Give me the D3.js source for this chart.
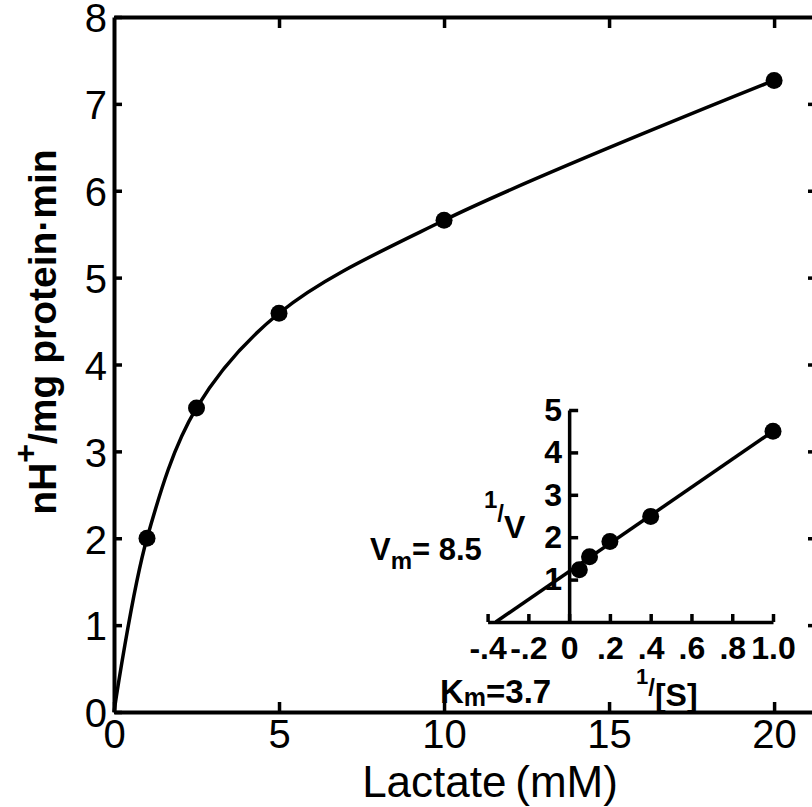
<!DOCTYPE html>
<html>
<head>
<meta charset="utf-8">
<script src="https://cdn.jsdelivr.net/npm/d3@7"></script>
<style>
  body { margin: 0; background: #fff; }
  svg { display: block; }
  text { font-family: "Liberation Sans", Arial, sans-serif; fill: #000; }
</style>
</head>
<body>
<div class="chart"></div>
<script>
// main plot: proton efflux vs lactate
var lactate = [0, 1, 2.5, 5, 10, 20];
var rate = [0, 2.0, 3.5, 4.59, 5.66, 7.27];
var xTicks = [0, 5, 10, 15, 20];
var yTicks = [0, 1, 2, 3, 4, 5, 6, 7, 8];

// inset: double reciprocal plot
var invS = [1.0, 0.4, 0.2, 0.1, 0.05];
var invV = [4.5, 2.49, 1.9, 1.54, 1.23];
var fitX = [-0.36, 1.0];
var fitY = [0, 4.5];
var insetXTicks = [-0.4, -0.2, 0, 0.2, 0.4, 0.6, 0.8, 1.0];
var insetXLabels = ["-.4", "-.2", "0", ".2", ".4", ".6", ".8", "1.0"];
var insetYTicks = [1, 2, 3, 4, 5];

var svgWidth = 812;
var svgHeight = 807;

var svg = d3.select(".chart")
  .append("svg")
  .attr("width", svgWidth)
  .attr("height", svgHeight);

var xScale = d3.scaleLinear().domain([0, 21.3]).range([114, 817]);
var yScale = d3.scaleLinear().domain([0, 8]).range([712, 17]);

// axes
var bottomAxis = d3.axisBottom(xScale)
  .tickValues(xTicks)
  .tickSizeInner(-10).tickSizeOuter(0).tickPadding(8)
  .tickFormat(d3.format("d"));
var leftAxis = d3.axisLeft(yScale)
  .tickValues(yTicks)
  .tickSizeInner(-8).tickSizeOuter(0).tickPadding(7)
  .tickFormat(d3.format("d"));
var topAxis = d3.axisTop(xScale)
  .tickValues(xTicks.slice(1))
  .tickSizeInner(-11).tickSizeOuter(0).tickFormat("");
var rightAxis = d3.axisRight(yScale)
  .tickValues(yTicks.slice(1, 8))
  .tickSizeInner(-9).tickSizeOuter(0).tickFormat("");

function styleAxis(g, fs) {
  g.select(".domain").attr("stroke", "#000").attr("stroke-width", 4);
  g.selectAll(".tick line").attr("stroke", "#000").attr("stroke-width", 3.5);
  g.selectAll(".tick text")
    .style("font-size", fs + "px")
    .style("font-family", "'Liberation Sans', Arial, sans-serif")
    .attr("fill", "#000");
}

svg.append("g").attr("transform", `translate(0, ${yScale(0)})`).call(bottomAxis).call(styleAxis, 40);
svg.append("g").attr("transform", `translate(${xScale(0)}, 0)`).call(leftAxis).call(styleAxis, 40)
  .selectAll(".tick text").attr("dy", "0.37em");
svg.append("g").attr("transform", `translate(0, ${yScale(8)})`).call(topAxis).call(styleAxis, 40);
svg.append("g").attr("transform", `translate(${xScale(21.3)}, 0)`).call(rightAxis).call(styleAxis, 40);

// axis titles
svg.append("text")
  .attr("x", 490)
  .attr("y", 797)
  .attr("text-anchor", "middle")
  .style("font-size", "44px")
  .text("Lactate\u2009(mM)");

var yTitle = svg.append("text")
  .attr("transform", "translate(56, 332) rotate(-90)")
  .attr("text-anchor", "middle")
  .style("font-size", "39px")
  .style("font-weight", "bold");
yTitle.append("tspan").text("nH");
yTitle.append("tspan").attr("dy", -20).style("font-size", "32px").text("+");
yTitle.append("tspan").attr("dy", 20).text("/mg protein\u00b7min");

// curve
var line = d3.line()
  .x((d, i) => xScale(lactate[i]))
  .y(d => yScale(d))
  .curve(d3.curveCatmullRom.alpha(0.5));

svg.append("path")
  .attr("d", line(rate))
  .attr("fill", "none")
  .attr("stroke", "#000")
  .attr("stroke-width", 3.5);

svg.selectAll(".dot")
  .data(rate.slice(1))
  .enter()
  .append("circle")
  .attr("class", "dot")
  .attr("cx", (d, i) => xScale(lactate[i + 1]))
  .attr("cy", d => yScale(d))
  .attr("r", 8.5)
  .attr("fill", "#000");

// ---- inset ----
var ix = d3.scaleLinear().domain([-0.4, 1.0]).range([487.6, 773]);
var iy = d3.scaleLinear().domain([0, 5]).range([622, 410]);

var insetX = d3.axisBottom(ix)
  .tickValues(insetXTicks)
  .tickSizeInner(-8).tickSizeOuter(0).tickPadding(14)
  .tickFormat((d, i) => insetXLabels[i]);
var insetY = d3.axisLeft(iy)
  .tickValues(insetYTicks)
  .tickSizeInner(-9).tickSizeOuter(0).tickPadding(7)
  .tickFormat(d3.format("d"));

function styleInset(g) {
  g.select(".domain").attr("stroke", "#000").attr("stroke-width", 3.5);
  g.selectAll(".tick line").attr("stroke", "#000").attr("stroke-width", 3.5);
  g.selectAll(".tick text")
    .style("font-size", "32px")
    .style("font-weight", "bold")
    .style("font-family", "'Liberation Sans', Arial, sans-serif")
    .attr("fill", "#000");
}

svg.append("g").attr("transform", `translate(0, ${iy(0)})`).call(insetX).call(styleInset);
svg.append("g").attr("transform", `translate(${ix(0)}, 0)`).call(insetY).call(styleInset);

var fitLine = d3.line()
  .x((d, i) => ix(fitX[i]))
  .y(d => iy(d));

svg.append("path")
  .attr("d", fitLine(fitY))
  .attr("fill", "none")
  .attr("stroke", "#000")
  .attr("stroke-width", 3.5);

svg.selectAll(".idot")
  .data(invV)
  .enter()
  .append("circle")
  .attr("class", "idot")
  .attr("cx", (d, i) => ix(invS[i]))
  .attr("cy", d => iy(d))
  .attr("r", 8.5)
  .attr("fill", "#000");

// inset annotations
var vm = svg.append("text")
  .attr("x", 370).attr("y", 560)
  .style("font-size", "31px").style("font-weight", "bold");
vm.append("tspan").text("V");
vm.append("tspan").attr("dy", 9).style("font-size", "24px").text("m");
vm.append("tspan").attr("dy", -9).text("= 8.5");

var km = svg.append("text")
  .attr("x", 440).attr("y", 703)
  .style("font-size", "33px").style("font-weight", "bold");
km.append("tspan").text("K");
km.append("tspan").attr("dy", 3).style("font-size", "25px").text("m");
km.append("tspan").attr("dy", -3).text("=3.7");

var vLab = svg.append("text")
  .attr("x", 484).attr("y", 508)
  .style("font-weight", "bold");
vLab.append("tspan").style("font-size", "24px").text("1");
vLab.append("tspan").attr("dy", 14).style("font-size", "24px").text("/");
vLab.append("tspan").attr("dy", 16).style("font-size", "32px").text("V");

var sLab = svg.append("text")
  .attr("x", 636).attr("y", 684)
  .style("font-weight", "bold");
sLab.append("tspan").style("font-size", "22px").text("1");
sLab.append("tspan").attr("dy", 12).style("font-size", "24px").text("/");
sLab.append("tspan").attr("dy", 10).style("font-size", "32px").text("[S]");
</script>
</body>
</html>
